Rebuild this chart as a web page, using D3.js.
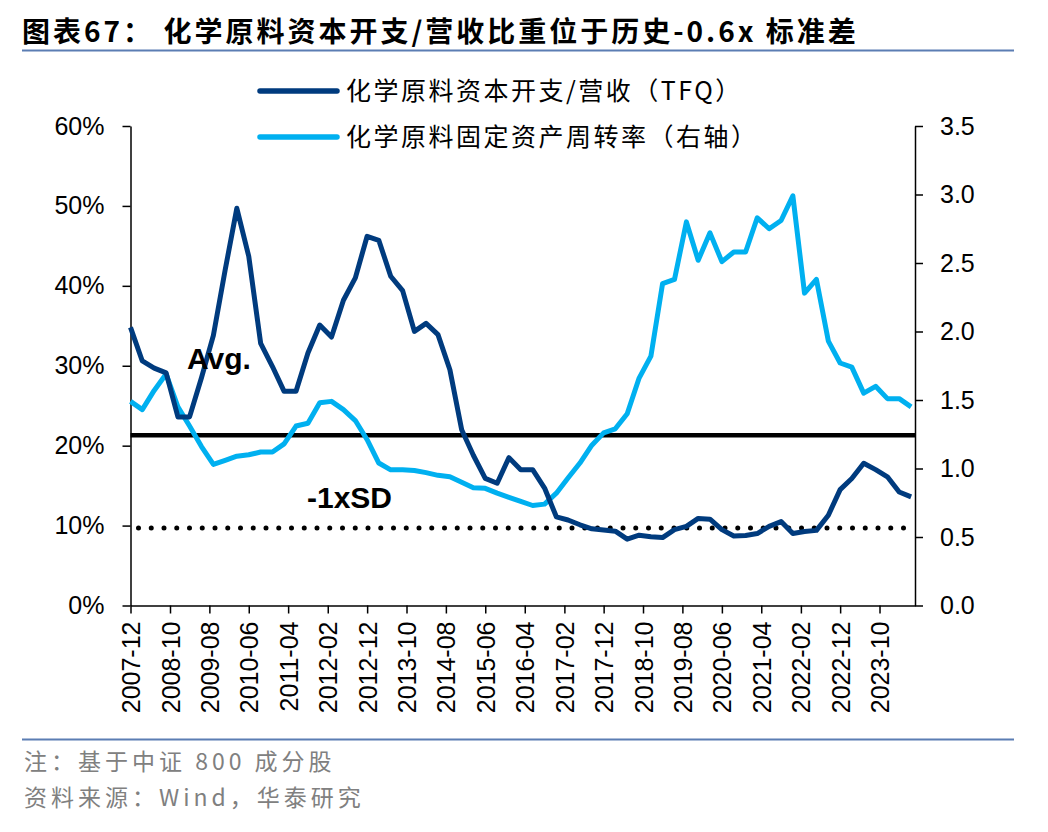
<!DOCTYPE html>
<html>
<head>
<meta charset="utf-8">
<script src="https://cdn.jsdelivr.net/npm/d3@7/dist/d3.min.js"></script>
<style>
  body { margin: 0; background: #fff; }
  .axis path, .axis line { stroke: #000; stroke-width: 1.5px; }
  .axis text { font-family: "Liberation Sans", Arial, sans-serif; font-size: 25px; fill: #000; }
</style>
</head>
<body>
<div id="chart"></div>
<script>
// quarterly data, 2007-12 .. 2024-06
var quarters = [
  "2007-12","2008-03","2008-06","2008-09","2008-12","2009-03","2009-06","2009-09","2009-12",
  "2010-03","2010-06","2010-09","2010-12","2011-03","2011-06","2011-09","2011-12",
  "2012-03","2012-06","2012-09","2012-12","2013-03","2013-06","2013-09","2013-12",
  "2014-03","2014-06","2014-09","2014-12","2015-03","2015-06","2015-09","2015-12",
  "2016-03","2016-06","2016-09","2016-12","2017-03","2017-06","2017-09","2017-12",
  "2018-03","2018-06","2018-09","2018-12","2019-03","2019-06","2019-09","2019-12",
  "2020-03","2020-06","2020-09","2020-12","2021-03","2021-06","2021-09","2021-12",
  "2022-03","2022-06","2022-09","2022-12","2023-03","2023-06","2023-09","2023-12",
  "2024-03","2024-06"
];

// capex / revenue (%), left axis
var capexRatio = [
  34.8, 30.6, 29.7, 29.1, 23.6, 23.6, 28.5, 33.8, 42.0,
  49.7, 43.7, 32.8, 29.9, 26.8, 26.8, 31.6, 35.1,
  33.6, 38.2, 41.0, 46.2, 45.7, 41.2, 39.4, 34.3,
  35.3, 33.9, 29.5, 22.0, 18.8, 15.9, 15.3, 18.5,
  17.0, 17.0, 14.7, 11.1, 10.7, 10.1, 9.6, 9.45,
  9.3, 8.3, 8.8, 8.6, 8.5, 9.5, 9.9, 10.9,
  10.8, 9.5, 8.7, 8.75, 9.0, 9.9, 10.5, 9.0,
  9.25, 9.4, 11.3, 14.5, 15.9, 17.8, 17.0, 16.1,
  14.2, 13.6
];

// fixed asset turnover, right axis
var assetTurnover = [
  1.49, 1.43, 1.57, 1.69, 1.45, 1.31, 1.16, 1.03, 1.06,
  1.09, 1.10, 1.12, 1.12, 1.18, 1.31, 1.33, 1.48,
  1.49, 1.43, 1.35, 1.21, 1.04, 0.99, 0.99, 0.985,
  0.97, 0.95, 0.94, 0.90, 0.86, 0.855, 0.82, 0.79,
  0.76, 0.73, 0.74, 0.82, 0.93, 1.04, 1.17, 1.26,
  1.29, 1.40, 1.66, 1.82, 2.35, 2.38, 2.80, 2.52,
  2.72, 2.51, 2.58, 2.58, 2.83, 2.75, 2.81, 2.99,
  2.28, 2.38, 1.93, 1.77, 1.74, 1.55, 1.60, 1.51,
  1.51, 1.45
];

var avgValue = 21.3;
var minusSdValue = 9.7;

var xTickLabels = [
  "2007-12","2008-10","2009-08","2010-06","2011-04","2012-02","2012-12",
  "2013-10","2014-08","2015-06","2016-04","2017-02","2017-12","2018-10",
  "2019-08","2020-06","2021-04","2022-02","2022-12","2023-10"
];
var leftTicks = [0, 10, 20, 30, 40, 50, 60];
var rightTicks = [0, 0.5, 1.0, 1.5, 2.0, 2.5, 3.0, 3.5];

var seriesNames = ["化学原料资本开支/营收（TFQ）", "化学原料固定资产周转率（右轴）"];
var seriesColors = ["#003B7E", "#00B0F0"];

var svgWidth = 1048;
var svgHeight = 832;

var plot = { left: 130.5, right: 915, top: 126, bottom: 605.5 };

var svg = d3.select("#chart")
  .append("svg")
  .attr("width", svgWidth)
  .attr("height", svgHeight);

var parseMonth = d3.timeParse("%Y-%m");

var xScale = d3.scaleTime()
  .domain([parseMonth("2007-12"), parseMonth("2024-07")])
  .range([plot.left, plot.right]);

var yLeft = d3.scaleLinear().domain([0, 60]).range([plot.bottom, plot.top]);
var yRight = d3.scaleLinear().domain([0, 3.5]).range([plot.bottom, plot.top]);

// title
svg.append("text")
  .attr("x", 22)
  .attr("y", 42)
  .style("font-family", "'Noto Sans CJK SC', sans-serif")
  .style("font-weight", "bold")
  .style("font-size", "28px")
  .style("letter-spacing", "3px")
  .text("图表67：  化学原料资本开支/营收比重位于历史-0.6x 标准差");

svg.append("line")
  .attr("x1", 22).attr("x2", 1014)
  .attr("y1", 50.5).attr("y2", 50.5)
  .attr("stroke", "#5B7DB3")
  .attr("stroke-width", 2);

// axes
var bottomAxis = d3.axisBottom(xScale)
  .tickValues(xTickLabels.map(parseMonth))
  .tickFormat(d3.timeFormat("%Y-%m"))
  .tickSize(8)
  .tickSizeOuter(0);

var xAxisG = svg.append("g")
  .attr("class", "axis")
  .attr("transform", `translate(0, ${plot.bottom})`)
  .call(bottomAxis);

xAxisG.selectAll("text")
  .attr("transform", "rotate(-90)")
  .attr("x", -16)
  .attr("y", 0)
  .attr("dy", "0.36em")
  .style("text-anchor", "end");

var leftAxis = d3.axisLeft(yLeft)
  .tickValues(leftTicks)
  .tickFormat(d => d + "%")
  .tickSize(8)
  .tickSizeOuter(0)
  .tickPadding(18);

svg.append("g")
  .attr("class", "axis")
  .attr("transform", `translate(${plot.left}, 0)`)
  .call(leftAxis);

var rightAxis = d3.axisRight(yRight)
  .tickValues(rightTicks)
  .tickFormat(d3.format(".1f"))
  .tickSize(8)
  .tickSizeOuter(0)
  .tickPadding(17);

svg.append("g")
  .attr("class", "axis")
  .attr("transform", `translate(${plot.right}, 0)`)
  .call(rightAxis);

// reference lines
svg.append("line")
  .attr("x1", plot.left).attr("x2", plot.right)
  .attr("y1", yLeft(avgValue)).attr("y2", yLeft(avgValue))
  .attr("stroke", "#000")
  .attr("stroke-width", 4.5);

svg.append("line")
  .attr("x1", plot.left + 8).attr("x2", plot.right - 8)
  .attr("y1", yLeft(minusSdValue)).attr("y2", yLeft(minusSdValue))
  .attr("stroke", "#000")
  .attr("stroke-width", 5)
  .attr("stroke-linecap", "round")
  .attr("stroke-dasharray", "0 12.75");

// lines
var lineLeft = d3.line()
  .x((d, i) => xScale(parseMonth(quarters[i])))
  .y(d => yLeft(d));

var lineRight = d3.line()
  .x((d, i) => xScale(parseMonth(quarters[i])))
  .y(d => yRight(d));

svg.append("path")
  .datum(assetTurnover)
  .attr("d", lineRight)
  .attr("fill", "none")
  .attr("stroke", seriesColors[1])
  .attr("stroke-width", 5)
  .attr("stroke-linejoin", "round");

svg.append("path")
  .datum(capexRatio)
  .attr("d", lineLeft)
  .attr("fill", "none")
  .attr("stroke", seriesColors[0])
  .attr("stroke-width", 5)
  .attr("stroke-linejoin", "round");

// annotations
svg.append("text")
  .attr("x", 187).attr("y", 369)
  .style("font-family", "'Liberation Sans', Arial, sans-serif")
  .style("font-weight", "bold")
  .style("font-size", "30px")
  .text("Avg.");

svg.append("text")
  .attr("x", 307).attr("y", 508)
  .style("font-family", "'Liberation Sans', Arial, sans-serif")
  .style("font-weight", "bold")
  .style("font-size", "30px")
  .text("-1xSD");

// legend
var legendRows = [91, 137];
seriesNames.forEach(function(name, i) {
  svg.append("line")
    .attr("x1", 260).attr("x2", 337)
    .attr("y1", legendRows[i]).attr("y2", legendRows[i])
    .attr("stroke", seriesColors[i])
    .attr("stroke-width", 5.5)
    .attr("stroke-linecap", "round");
  svg.append("text")
    .attr("x", 346)
    .attr("y", legendRows[i])
    .attr("dy", "0.36em")
    .style("font-family", "'Noto Sans CJK SC', sans-serif")
    .style("font-size", "25px")
    .style("letter-spacing", "2.5px")
    .text(name);
});

// footer
svg.append("line")
  .attr("x1", 22).attr("x2", 1014)
  .attr("y1", 739.5).attr("y2", 739.5)
  .attr("stroke", "#5B7DB3")
  .attr("stroke-width", 2);

var footerLines = ["注：基于中证 800 成分股", "资料来源：Wind，华泰研究"];
footerLines.forEach(function(t, i) {
  svg.append("text")
    .attr("x", 24)
    .attr("y", 770 + i * 36)
    .style("font-family", "'Noto Sans CJK SC', sans-serif")
    .style("font-size", "23px")
    .style("letter-spacing", "4px")
    .style("fill", "#808080")
    .text(t);
});
</script>
</body>
</html>
